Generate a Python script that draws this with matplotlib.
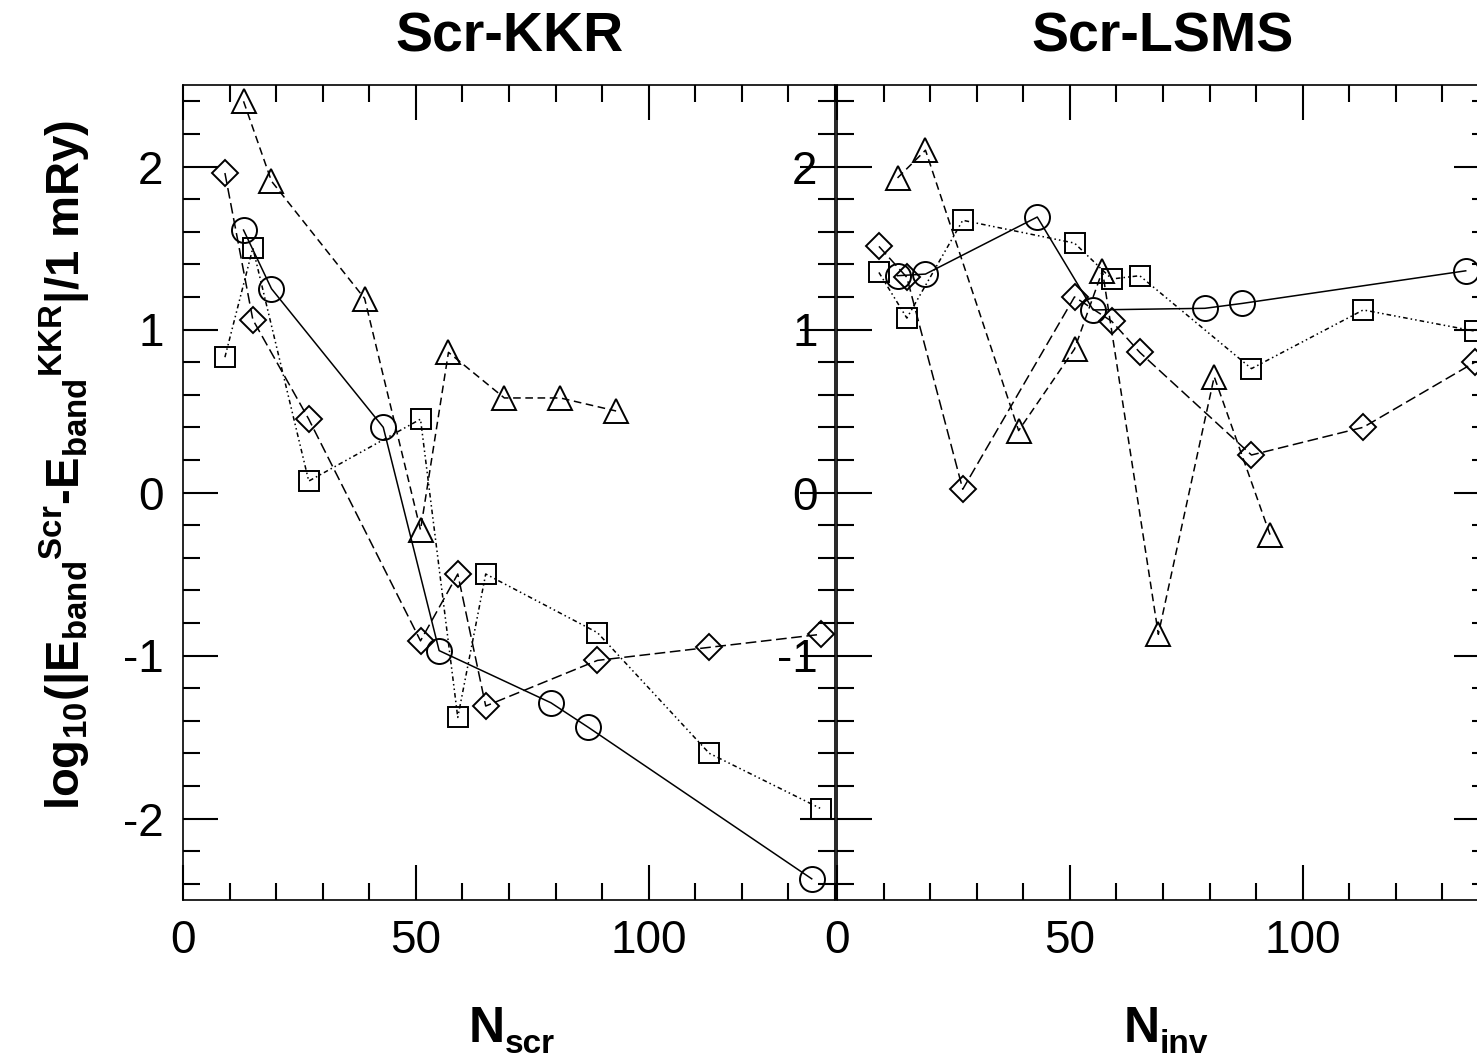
import numpy as np
import matplotlib.pyplot as plt
from matplotlib.ticker import MultipleLocator, FixedLocator

plt.rcParams['font.family'] = ['Liberation Sans', 'DejaVu Sans']
plt.rcParams['mathtext.default'] = 'regular'

# cluster sizes (neighbour shells)
n_hcp = [13, 19, 39, 51, 57, 69, 81, 93]
n_fcc = [13, 19, 43, 55, 79, 87, 135]
n_bcc = [9, 15, 27, 51, 59, 65, 89, 113, 137]

# Scr-KKR: log10 error
kkr_hcp = [2.40, 1.91, 1.19, -0.23, 0.86, 0.58, 0.58, 0.50]
kkr_fcc = [1.61, 1.25, 0.40, -0.97, -1.29, -1.44, -2.37]
kkr_bcc_sq = [0.83, 1.50, 0.07, 0.45, -1.38, -0.50, -0.86, -1.60, -1.94]
kkr_bcc_di = [1.96, 1.06, 0.45, -0.91, -0.50, -1.31, -1.03, -0.95, -0.87]

# Scr-LSMS: log10 error
lsms_hcp = [1.93, 2.10, 0.38, 0.88, 1.36, -0.87, 0.71, -0.26]
lsms_fcc = [1.33, 1.34, 1.69, 1.12, 1.13, 1.16, 1.36]
lsms_bcc_sq = [1.35, 1.07, 1.67, 1.53, 1.31, 1.33, 0.76, 1.12, 0.99]
lsms_bcc_di = [1.51, 1.32, 0.02, 1.20, 1.05, 0.86, 0.23, 0.40, 0.80]

yticks = [-2, -1, 0, 1, 2]

fig = plt.figure(figsize=(14.77, 10.62), dpi=100)
W, H = 1477, 1062
ax1 = fig.add_axes([183 / W, 1 - 900 / H, 652 / W, 815 / H])
ax2 = fig.add_axes([837 / W, 1 - 900 / H, 652 / W, 815 / H])

ms = dict(mfc='none', mec='black', mew=1.4, color='black', lw=1.1, clip_on=False)


def draw(ax, hcp, fcc, sq, di):
    ax.plot(n_hcp, hcp, marker='^', ms=17, ls=(0, (5, 3)), **ms)
    ax.plot(n_fcc, fcc, marker='o', ms=18, ls='-', **ms)
    ax.plot(n_bcc, sq, marker='s', ms=15, ls=(0, (3, 2, 1, 2, 1, 2)), **ms)
    ax.plot(n_bcc, di, marker='D', ms=13.5, ls=(0, (7, 3)), **ms)
    ax.set_xlim(0, 140)
    ax.set_ylim(-2.5, 2.5)
    ax.xaxis.set_major_locator(FixedLocator([0, 50, 100]))
    ax.xaxis.set_minor_locator(MultipleLocator(10))
    ax.set_yticks(yticks)
    ax.yaxis.set_minor_locator(MultipleLocator(0.2))
    ax.tick_params(which='both', direction='in', top=True, right=True, width=1.5, labelsize=33)
    ax.tick_params(which='major', length=25, pad=14)
    ax.tick_params(which='minor', length=12)
    for s in ax.spines.values():
        s.set_linewidth(1.2)


draw(ax1, kkr_hcp, kkr_fcc, kkr_bcc_sq, kkr_bcc_di)
draw(ax2, lsms_hcp, lsms_fcc, lsms_bcc_sq, lsms_bcc_di)
ax1.set_yticklabels([str(v) for v in yticks])
ax2.set_yticklabels(['', '-1', '0', '1', '2'])

ax1.set_title('Scr-KKR', fontsize=40, fontweight='bold', pad=24)
ax2.set_title('Scr-LSMS', fontsize=40, fontweight='bold', pad=24)

# x labels
for xc, sub in [(505, 'scr'), (1160, 'inv')]:
    fig.text(xc / W, 1 - 1042 / H, 'N', fontsize=36, fontweight='bold', ha='right', va='baseline')
    fig.text(xc / W, 1 - 1053 / H, sub, fontsize=24, fontweight='bold', ha='left', va='baseline')

fig.text(65 / W, 1 - 465 / H,
         r'log$_{10}$(|E$_{band}$$^{Scr}$-E$_{band}$$^{KKR}$|/1 mRy)',
         rotation=90, fontsize=34, fontweight='bold', ha='center', va='center')

fig.savefig('out.png', dpi=100)
